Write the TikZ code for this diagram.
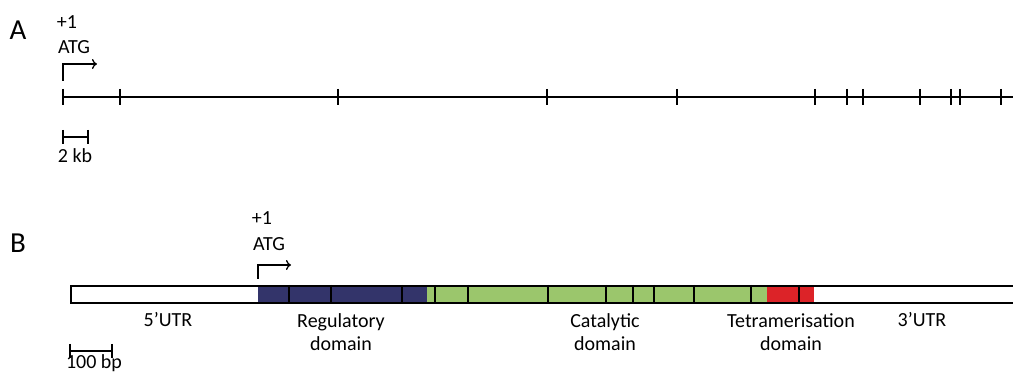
\documentclass[tikz,border=0pt]{standalone}
\usepackage{fontspec}
\setmainfont{Carlito}
\usetikzlibrary{arrows.meta}
\definecolor{navy}{HTML}{33346A}
\definecolor{lgreen}{HTML}{9BC66C}
\definecolor{dred}{HTML}{DC2328}
\tikzset{
  gline/.style={line width=2.4pt, black},
  tick/.style={line width=2.4pt, black},
  startarrow/.style={line width=1.3pt, -{To[length=5pt,width=10pt]}},
  lbl/.style={font=\fontsize{20}{23}\selectfont, inner sep=0pt, align=center},
  panel/.style={font=\fontsize{29}{32}\selectfont, inner sep=0pt},
  seg/.style={draw=black, line width=1.8pt},
}
\begin{document}
\begin{tikzpicture}[x=1pt,y=-1pt]
\useasboundingbox (0,0) rectangle (1013,374);
\clip (0,0) rectangle (1013,374);
% ---------- Panel A ----------
\node[panel] (pA) at (18,30) {A};
\node[lbl] (a1) at (67,22) {+1};
\node[lbl] (aatg) at (74,47) {ATG};
\coordinate (a0) at (63,97);
\coordinate (aend) at (1020,97);
\draw[gline] (a0) -- (aend);
\foreach \x in {63,120,338,547,677,815,847,863,920,951,960,1001}{
  \draw[tick] (\x,89) -- (\x,105);
}
\coordinate (arA0) at (63,81);
\coordinate (arA1) at (63,64);
\coordinate (arA2) at (97,64);
\draw[startarrow] (arA0) -- (arA1) -- (arA2);
% scale bar A
\coordinate (sA0) at (63,137);
\coordinate (sA1) at (88,137);
\draw[line width=2.4pt] (sA0) -- (sA1);
\draw[line width=2.4pt] (63,130) -- (63,144);
\draw[line width=2.4pt] (88,130) -- (88,144);
\node[lbl] (kb) at (75,156) {2 kb};
% ---------- Panel B ----------
\node[panel] (pB) at (18,243) {B};
\node[lbl] (b1) at (262,218) {+1};
\node[lbl] (batg) at (269,244) {ATG};
\coordinate (arB0) at (258,279);
\coordinate (arB1) at (258,265);
\coordinate (arB2) at (291,265);
\draw[startarrow] (arB0) -- (arB1) -- (arB2);
% bar fills
\fill[navy] (258,285) rectangle (427,302);
\fill[lgreen] (427,285) rectangle (767,302);
\fill[dred] (767,285) rectangle (814,302);
% dividers
\foreach \x in {289,331,402,435,468,548,606,633,654,694,751,799}{
  \draw[seg] (\x,285) -- (\x,302);
}
\node[draw=black, line width=2.4pt, fill=none, minimum width=960pt, minimum height=17pt, inner sep=0pt, anchor=north west] (bar) at (70,285) {};
% labels
\node[lbl] (utr5) at (168,320) {5’UTR};
\node[lbl] (reg) at (341,332) {Regulatory\\[0pt]domain};
\node[lbl] (cat) at (605,332) {Catalytic\\[0pt]domain};
\node[lbl] (tet) at (791,332) {Tetramerisation\\[0pt]domain};
\node[lbl] (utr3) at (922,320) {3’UTR};
% scale bar B
\coordinate (sB0) at (70,351);
\coordinate (sB1) at (112,351);
\draw[line width=2.4pt] (sB0) -- (sB1);
\draw[line width=2.4pt] (70,344) -- (70,358);
\draw[line width=2.4pt] (112,344) -- (112,358);
\node[lbl] (bp) at (94,363) {100 bp};
\end{tikzpicture}
\end{document}
